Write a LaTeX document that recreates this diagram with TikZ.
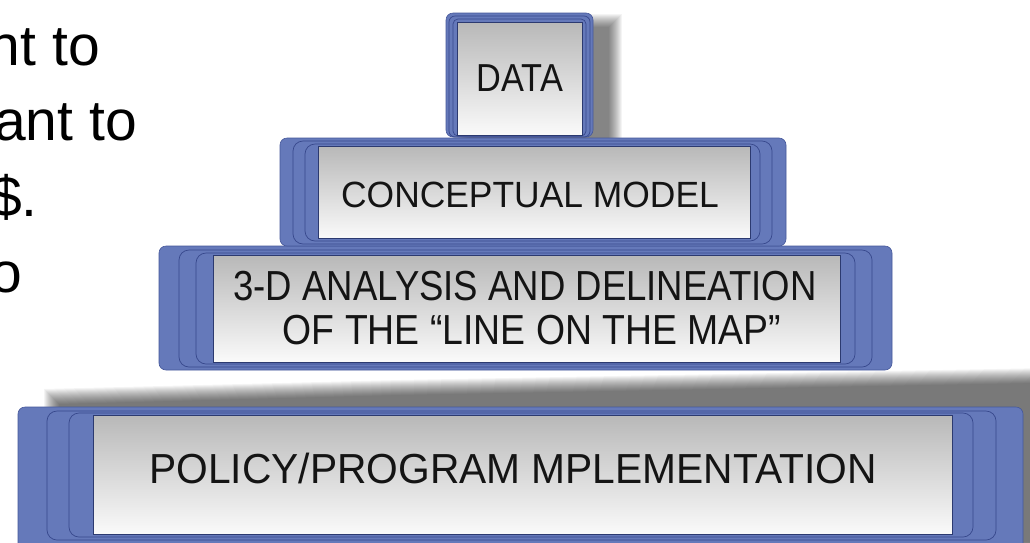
\documentclass[tikz,border=0pt]{standalone}
\usepackage{fontspec}
\setmainfont{Liberation Sans}
\usepackage{graphicx}
\definecolor{boxblue}{RGB}{101,121,186}
\definecolor{boxline}{RGB}{55,72,140}
\definecolor{facetop}{RGB}{184,184,184}
\definecolor{facebot}{RGB}{250,250,250}
\definecolor{txt}{RGB}{20,20,20}
\tikzset{
  outerbox/.style={fill=boxblue, draw=boxline!70!boxblue, line width=0.6pt, rounded corners=7pt},
  rim/.style={draw=boxline, line width=0.7pt, rounded corners=10pt},
  face/.style={top color=facetop, bottom color=facebot, draw=boxline!80!black, line width=0.5pt},
  lbl/.style={inner sep=0pt, text=txt, anchor=base},
  sidetext/.style={inner sep=0pt, text=black, anchor=base east, font=\fontsize{57}{60}\selectfont},
  shade/.style={fill=black, opacity=0.042}
}
\begin{document}
\begin{tikzpicture}[x=1pt,y=-1pt]
\useasboundingbox (0,0) rectangle (1030,542);
\clip (0,0) rectangle (1030,542);
\fill[white] (0,0) rectangle (1030,542);

% left cut-off text
\node[sidetext] (s1) at (100,65) {nt to};
\node[sidetext] (s2) at (137,140) {ant to};
\node[sidetext] (s3) at (38,216) {\$.};
\node[sidetext] (s4) at (22,292) {o};

% shadows
\foreach \k in {1,...,14}{
  \fill[shade] ({470-\k},{28-\k}) rectangle ({608+\k},{140+\k});
}
\foreach \k in {1,...,16}{
  \fill[shade] ({60-\k},{405-\k}) -- ({400},{396-\k}) -- ({1035+\k},{384-\k}) -- ({1035+\k},{560}) -- ({60-\k},{560}) -- cycle;
}

% POLICY layer
\path[outerbox] (18,407) rectangle (1023,552);
\path[rim] (47,411) rectangle (996,540);
\path[rim] (69,413) rectangle (973,537);
\path[face] (93,415) rectangle (952,534);
\node[lbl, font=\fontsize{42}{44}\selectfont] (policy) at (513,483) {\scalebox{0.97}[1]{POLICY/PROGRAM MPLEMENTATION}};

% 3-D layer
\path[outerbox] (159,246) rectangle (892,370);
\path[rim] (179,250) rectangle (872,367);
\path[rim] (196,253) rectangle (855,364);
\path[face] (213,255) rectangle (840,362);
\node[lbl, font=\fontsize{42}{44}\selectfont] (anaA) at (525,300) {\scalebox{0.87}[1]{3-D ANALYSIS AND DELINEATION}};
\node[lbl, font=\fontsize{42}{44}\selectfont] (anaB) at (532,344) {\scalebox{0.89}[1]{OF THE “LINE ON THE MAP”}};

% CONCEPTUAL layer
\path[outerbox] (280,138) rectangle (786,246);
\path[rim] (293,141) rectangle (772,244);
\path[rim] (305,144) rectangle (760,241);
\path[face] (318,146) rectangle (750,238);
\node[lbl, font=\fontsize{36.5}{38}\selectfont] (concept) at (530,207) {\scalebox{0.97}[1]{CONCEPTUAL MODEL}};

% DATA layer
\path[outerbox] (446,13) rectangle (593,137);
\path[rim, rounded corners=6pt] (449,16) rectangle (590,137);
\path[rim, rounded corners=5pt] (453,19) rectangle (586,136);
\path[face] (457,22) rectangle (582,135);
\node[lbl, font=\fontsize{39}{40}\selectfont] (data) at (520,91) {\scalebox{0.88}[1]{DATA}};
\end{tikzpicture}
\end{document}
